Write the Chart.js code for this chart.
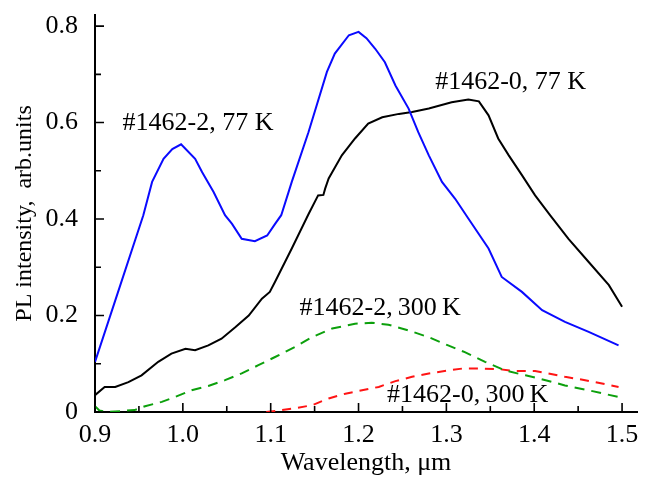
<!DOCTYPE html>
<html>
<head>
<meta charset="utf-8">
<title>PL spectra</title>
<script src="https://cdn.jsdelivr.net/npm/chart.js@4"></script>
<style>
  html, body { margin: 0; padding: 0; background: #fff; }
  #wrap { width: 651px; height: 480px; position: relative; }
</style>
</head>
<body>
<div id="wrap"><canvas id="plChart" width="651" height="480"></canvas></div>
<script>
// #1462-2, 77 K (blue)
const blueX = [0.900, 0.923, 0.955, 0.965, 0.978, 0.988, 0.998, 1.014, 1.022, 1.035, 1.048, 1.056, 1.067, 1.082, 1.096, 1.105, 1.112, 1.124, 1.143, 1.164, 1.173, 1.189, 1.200, 1.209, 1.219, 1.230, 1.242, 1.257, 1.268, 1.280, 1.295, 1.310, 1.325, 1.348, 1.363, 1.386, 1.409, 1.435, 1.462, 1.496];
const blueY = [0.104, 0.231, 0.408, 0.477, 0.525, 0.545, 0.555, 0.525, 0.497, 0.456, 0.408, 0.390, 0.359, 0.354, 0.366, 0.390, 0.408, 0.477, 0.580, 0.705, 0.743, 0.781, 0.788, 0.775, 0.753, 0.725, 0.677, 0.629, 0.580, 0.532, 0.477, 0.442, 0.401, 0.339, 0.280, 0.249, 0.211, 0.187, 0.166, 0.138];

// #1462-0, 77 K (black)
const blackX = [0.900, 0.911, 0.923, 0.938, 0.953, 0.972, 0.987, 1.003, 1.014, 1.029, 1.044, 1.060, 1.075, 1.090, 1.099, 1.105, 1.124, 1.143, 1.154, 1.160, 1.162, 1.166, 1.181, 1.196, 1.211, 1.227, 1.246, 1.261, 1.280, 1.306, 1.325, 1.337, 1.348, 1.359, 1.371, 1.386, 1.401, 1.418, 1.439, 1.462, 1.485, 1.500];
const blackY = [0.035, 0.052, 0.052, 0.062, 0.076, 0.104, 0.121, 0.131, 0.128, 0.138, 0.152, 0.176, 0.200, 0.235, 0.249, 0.270, 0.339, 0.410, 0.449, 0.450, 0.463, 0.484, 0.532, 0.567, 0.598, 0.611, 0.618, 0.622, 0.629, 0.642, 0.648, 0.644, 0.615, 0.567, 0.532, 0.491, 0.449, 0.408, 0.359, 0.311, 0.263, 0.218];

// #1462-2, 300 K (green, dashed)
const greenX = [0.900, 0.905, 0.915, 0.930, 0.945, 0.957, 0.976, 0.991, 1.010, 1.029, 1.048, 1.067, 1.086, 1.105, 1.128, 1.147, 1.170, 1.196, 1.215, 1.234, 1.257, 1.280, 1.302, 1.321, 1.344, 1.367, 1.390, 1.413, 1.435, 1.462, 1.496];
const greenY = [0.012, 0.003, 0.000, 0.002, 0.004, 0.012, 0.021, 0.031, 0.045, 0.054, 0.066, 0.080, 0.097, 0.114, 0.135, 0.155, 0.173, 0.183, 0.185, 0.181, 0.169, 0.155, 0.138, 0.124, 0.104, 0.086, 0.076, 0.066, 0.055, 0.045, 0.031];

// #1462-0, 300 K (red, dashed)
const redX = [1.095, 1.113, 1.128, 1.147, 1.166, 1.185, 1.204, 1.223, 1.242, 1.261, 1.280, 1.302, 1.318, 1.340, 1.359, 1.378, 1.401, 1.435, 1.458, 1.496];
const redY = [0.000, 0.004, 0.008, 0.014, 0.028, 0.038, 0.045, 0.052, 0.064, 0.073, 0.080, 0.086, 0.090, 0.090, 0.089, 0.085, 0.085, 0.073, 0.066, 0.052];

// labels placed in data coordinates
const curveLabels = ["#1462-2, 77 K", "#1462-0, 77 K", "#1462-2,\u2009300\u2009K", "#1462-0,\u2009300\u2009K"];
const labelX = [1.0173, 1.3732, 1.2246, 1.3243];
const labelY = [0.598, 0.683, 0.215, 0.0346];

// axis ticks
const xMajor = [0.9, 1.0, 1.1, 1.2, 1.3, 1.4, 1.5];
const xMinor = [0.95, 1.05, 1.15, 1.25, 1.35, 1.45];
const yMajor = [0, 0.2, 0.4, 0.6, 0.8];
const yMinor = [0.1, 0.3, 0.5, 0.7];

const serif = "'Liberation Serif', 'Times New Roman', serif";

function toPoints(xs, ys) {
  return xs.map((x, i) => ({ x: x, y: ys[i] }));
}

// inward tick marks + curve labels
const decorations = {
  id: 'decorations',
  afterDraw(chart) {
    const ctx = chart.ctx;
    const xs = chart.scales.x, ys = chart.scales.y;
    const area = chart.chartArea;
    ctx.save();
    ctx.strokeStyle = '#000';
    ctx.lineWidth = 1.6;
    ctx.beginPath();
    xMajor.forEach(v => { const p = xs.getPixelForValue(v); ctx.moveTo(p, area.bottom); ctx.lineTo(p, area.bottom - 9); });
    xMinor.forEach(v => { const p = xs.getPixelForValue(v); ctx.moveTo(p, area.bottom); ctx.lineTo(p, area.bottom - 6); });
    yMajor.forEach(v => { const p = ys.getPixelForValue(v); ctx.moveTo(area.left, p); ctx.lineTo(area.left + 9, p); });
    yMinor.forEach(v => { const p = ys.getPixelForValue(v); ctx.moveTo(area.left, p); ctx.lineTo(area.left + 6, p); });
    ctx.stroke();

    ctx.fillStyle = '#000';
    ctx.font = '26px ' + serif;
    ctx.textAlign = 'center';
    ctx.textBaseline = 'middle';
    curveLabels.forEach((t, i) => {
      ctx.fillText(t, xs.getPixelForValue(labelX[i]), ys.getPixelForValue(labelY[i]));
    });
    ctx.restore();
  }
};

window.addEventListener('DOMContentLoaded', () => {
  const ctx = document.getElementById('plChart').getContext('2d');

  new Chart(ctx, {
    type: 'line',
    data: {
      datasets: [
        { label: '#1462-2, 77 K', data: toPoints(blueX, blueY), borderColor: '#0a0aff', borderWidth: 2 },
        { label: '#1462-0, 77 K', data: toPoints(blackX, blackY), borderColor: '#000000', borderWidth: 2 },
        { label: '#1462-2, 300 K', data: toPoints(greenX, greenY), borderColor: '#0ca00c', borderWidth: 2, borderDash: [10, 7] },
        { label: '#1462-0, 300 K', data: toPoints(redX, redY), borderColor: '#ff1414', borderWidth: 2, borderDash: [9, 7] }
      ]
    },
    options: {
      responsive: false,
      animation: false,
      devicePixelRatio: 1,
      layout: { padding: { top: 15, right: 14, left: 0, bottom: 0 } },
      elements: { point: { radius: 0 }, line: { tension: 0 } },
      plugins: { legend: { display: false }, tooltip: { enabled: false } },
      scales: {
        x: {
          type: 'linear',
          min: 0.9,
          max: 1.517,
          grid: { display: false },
          border: { display: true, color: '#000', width: 2 },
          ticks: {
            padding: 0,
            color: '#000',
            font: { family: serif, size: 26 },
            maxRotation: 0,
            autoSkip: false,
            callback: v => v.toFixed(1)
          },
          afterBuildTicks(scale) { scale.ticks = xMajor.map(v => ({ value: v })); },
          title: {
            display: true,
            text: 'Wavelength, \u03bcm',
            color: '#000',
            font: { family: serif, size: 26 },
            padding: { top: 0, bottom: 1 }
          },
          afterFit(scale) {
            scale.height = 68;
            scale.paddingLeft = 0;
            scale.paddingRight = 0;
          }
        },
        y: {
          type: 'linear',
          min: 0,
          max: 0.823,
          grid: { display: false },
          border: { display: true, color: '#000', width: 2 },
          ticks: {
            padding: 9,
            color: '#000',
            font: { family: serif, size: 26 },
            autoSkip: false,
            callback: v => (v === 0 ? '0' : v.toFixed(1))
          },
          afterBuildTicks(scale) { scale.ticks = yMajor.map(v => ({ value: v })); },
          title: {
            display: true,
            text: 'PL intensity,  arb.units',
            color: '#000',
            font: { family: serif, size: 24 },
            padding: { top: 10, bottom: 0 }
          },
          afterFit(scale) {
            scale.width = 95;
            scale.paddingTop = 0;
            scale.paddingBottom = 0;
          }
        }
      }
    },
    plugins: [decorations]
  });
});
</script>
</body>
</html>
